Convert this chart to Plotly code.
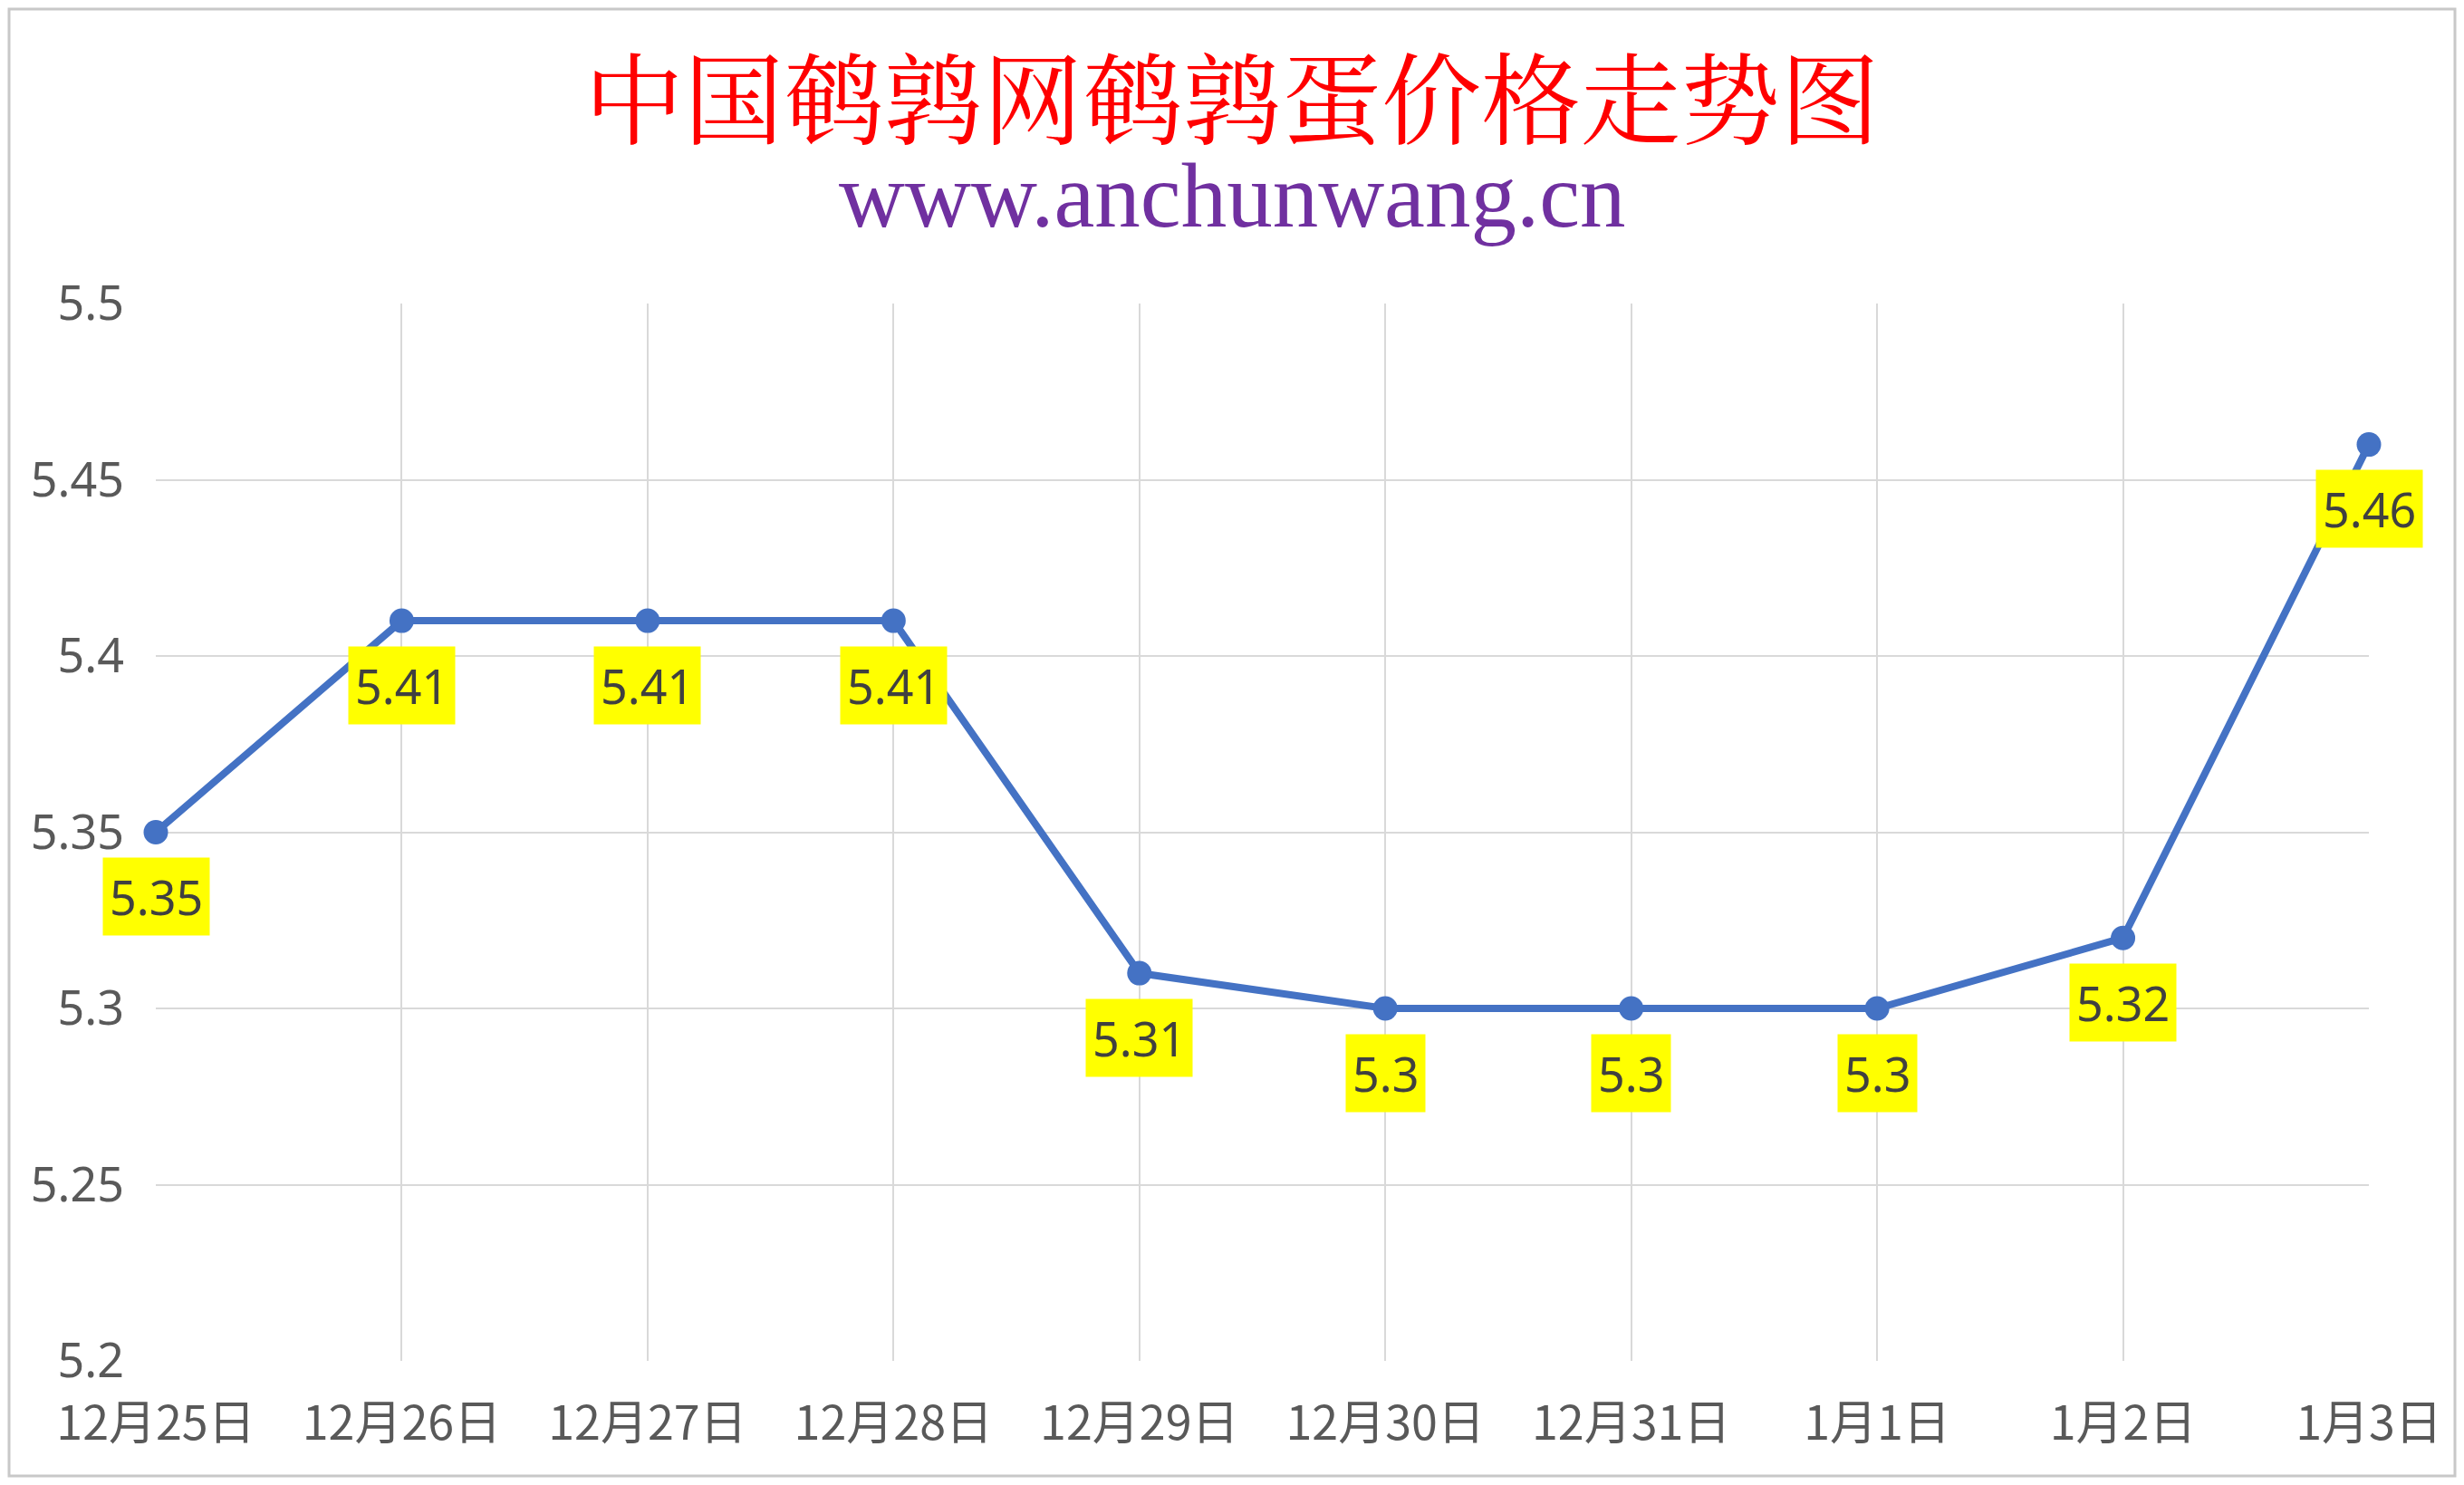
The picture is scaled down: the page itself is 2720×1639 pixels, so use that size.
import plotly.graph_objects as go

# price data
dates = ["12月25日", "12月26日", "12月27日", "12月28日", "12月29日",
         "12月30日", "12月31日", "1月1日", "1月2日", "1月3日"]
prices = [5.35, 5.41, 5.41, 5.41, 5.31, 5.3, 5.3, 5.3, 5.32, 5.46]
y_ticks = [5.2, 5.25, 5.3, 5.35, 5.4, 5.45, 5.5]

# page has an 8px body margin, so the figure is a bit smaller than the window
W, H = 2704, 1623
ML, MR, MT, MB = 164, 97, 327, 129
pw, ph = W - ML - MR, H - MT - MB

fig = go.Figure()
fig.add_trace(go.Scatter(
    x=dates, y=prices, mode="lines+markers",
    line=dict(color="#4472C4", width=8),
    marker=dict(color="#4472C4", size=27),
    cliponaxis=False,
    hoverinfo="skip",
))

# yellow data labels under each point
for d, p in zip(dates, prices):
    fig.add_annotation(
        x=d, y=p, text=f"{p:g}", showarrow=False, yshift=-71,
        bgcolor="#FFFF00", borderpad=7,
        font=dict(family="Noto Sans, Liberation Sans", size=52, color="#404040"),
    )

# title and subtitle
fig.add_annotation(
    xref="paper", yref="paper", x=(W / 2 - ML) / pw, y=1 + (MT - 95) / ph,
    text="中国鹌鹑网鹌鹑蛋价格走势图", showarrow=False,
    xanchor="center", yanchor="middle",
    font=dict(family="Noto Serif CJK SC, Noto Sans CJK SC", size=110, color="#FF0000"),
)
fig.add_annotation(
    xref="paper", yref="paper", x=(W / 2 - ML) / pw, y=1 + (MT - 208) / ph,
    text="www.anchunwang.cn", showarrow=False,
    xanchor="center", yanchor="middle",
    font=dict(family="Liberation Serif, Times New Roman", size=101, color="#7030A0"),
)

# thin frame around the whole picture
fig.add_shape(
    type="rect", xref="paper", yref="paper",
    x0=-(ML - 2) / pw, x1=1 + (MR - 2) / pw,
    y0=-(MB - 2) / ph, y1=1 + (MT - 2) / ph,
    line=dict(color="#C8C8C8", width=3), layer="below",
)

fig.update_layout(
    width=W, height=H, autosize=False,
    margin=dict(l=ML, r=MR, t=MT, b=MB),
    paper_bgcolor="white", plot_bgcolor="white",
    showlegend=False,
    xaxis=dict(
        type="category", range=[0, len(dates) - 1],
        showgrid=True, gridcolor="#D9D9D9", gridwidth=2,
        showline=False, zeroline=False, ticks="",
        tickfont=dict(family="Noto Sans CJK SC", size=52, color="#595959"),
        ticklabelstandoff=34,
    ),
    yaxis=dict(
        range=[5.2, 5.5], tickvals=y_ticks,
        ticktext=[f"{v:g}" for v in y_ticks],
        showgrid=True, gridcolor="#D9D9D9", gridwidth=2,
        showline=False, zeroline=False, ticks="",
        tickfont=dict(family="Noto Sans, Liberation Sans", size=52, color="#595959"),
        ticklabelstandoff=34,
    ),
)

fig.write_html("out.html")
